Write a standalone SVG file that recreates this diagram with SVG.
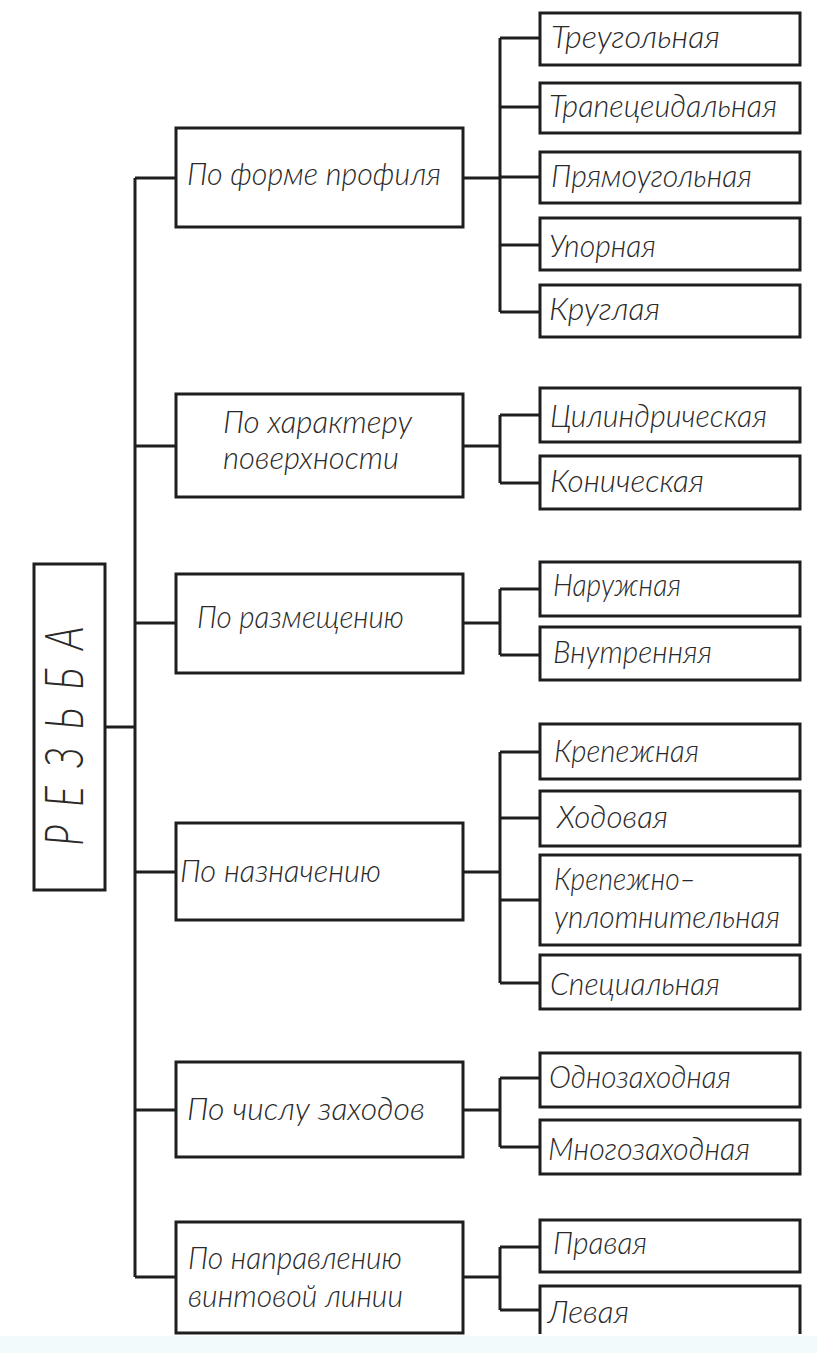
<svg xmlns="http://www.w3.org/2000/svg" width="817" height="1353" viewBox="0 0 817 1353">
<style>
.box{fill:#ffffff;stroke:#1e1e1e;stroke-width:3}
.ln{fill:none;stroke:#1e1e1e;stroke-width:3}
text{font-family:Lato,"Liberation Sans",sans-serif;font-style:italic;font-weight:300;font-size:32px;fill:#2a2a2a}
.root{font-size:54px}
</style>
<rect x="0" y="0" width="817" height="1353" fill="#ffffff"/>
<rect x="0" y="1336" width="817" height="17" fill="#f3fafb"/>
<g id="connectors" class="ln">
<path d="M105 727H135M135 178V1277"/>
<path d="M135 178H176M135 446H176M135 623H176M135 872H176M135 1110H176M135 1277H176"/>
<path d="M463 178H500M500 38V312M500 38H540M500 107H540M500 177H540M500 245H540M500 312H540"/>
<path d="M463 446H500M500 415V483M500 415H540M500 483H540"/>
<path d="M463 623H500M500 589V655M500 589H540M500 655H540"/>
<path d="M463 872H500M500 752V983M500 752H540M500 818H540M500 900H540M500 983H540"/>
<path d="M463 1110H500M500 1078V1147M500 1078H540M500 1147H540"/>
<path d="M463 1277H500M500 1247V1310M500 1247H540M500 1310H540"/>
</g>
<g id="root"><rect class="box" x="34" y="564" width="71" height="326"/><text class="root" transform="translate(83,846) rotate(-90) scale(0.72,1)" textLength="305" lengthAdjust="spacing">РЕЗЬБА</text></g>
<g id="cat1"><rect class="box" x="176" y="128" width="287" height="99"/><text x="187" y="185" textLength="254" lengthAdjust="spacingAndGlyphs">По форме профиля</text></g>
<g id="cat2"><rect class="box" x="176" y="394" width="287" height="103"/><text x="223" y="433" textLength="189" lengthAdjust="spacingAndGlyphs">По характеру</text><text x="223" y="469" textLength="176" lengthAdjust="spacingAndGlyphs">поверхности</text></g>
<g id="cat3"><rect class="box" x="176" y="574" width="287" height="99"/><text x="197" y="628" textLength="207" lengthAdjust="spacingAndGlyphs">По размещению</text></g>
<g id="cat4"><rect class="box" x="176" y="823" width="287" height="97"/><text x="180" y="882" textLength="201" lengthAdjust="spacingAndGlyphs">По назначению</text></g>
<g id="cat5"><rect class="box" x="176" y="1062" width="287" height="95"/><text x="187" y="1120" textLength="238" lengthAdjust="spacingAndGlyphs">По числу заходов</text></g>
<g id="cat6"><rect class="box" x="176" y="1222" width="287" height="111"/><text x="188" y="1269" textLength="214" lengthAdjust="spacingAndGlyphs">По направлению</text><text x="188" y="1307" textLength="215" lengthAdjust="spacingAndGlyphs">винтовой линии</text></g>
<g id="leaf1"><rect class="box" x="540" y="13" width="260" height="52"/><text x="551" y="48" textLength="169" lengthAdjust="spacingAndGlyphs">Треугольная</text></g>
<g id="leaf2"><rect class="box" x="540" y="83" width="260" height="50"/><text x="549" y="117" textLength="228" lengthAdjust="spacingAndGlyphs">Трапецеидальная</text></g>
<g id="leaf3"><rect class="box" x="540" y="152" width="260" height="51"/><text x="551" y="187" textLength="201" lengthAdjust="spacingAndGlyphs">Прямоугольная</text></g>
<g id="leaf4"><rect class="box" x="540" y="218" width="260" height="52"/><text x="549" y="257" textLength="107" lengthAdjust="spacingAndGlyphs">Упорная</text></g>
<g id="leaf5"><rect class="box" x="540" y="285" width="260" height="52"/><text x="549" y="320" textLength="111" lengthAdjust="spacingAndGlyphs">Круглая</text></g>
<g id="leaf6"><rect class="box" x="540" y="388" width="260" height="54"/><text x="550" y="427" textLength="217" lengthAdjust="spacingAndGlyphs">Цилиндрическая</text></g>
<g id="leaf7"><rect class="box" x="540" y="456" width="260" height="53"/><text x="550" y="492" textLength="154" lengthAdjust="spacingAndGlyphs">Коническая</text></g>
<g id="leaf8"><rect class="box" x="540" y="562" width="260" height="54"/><text x="553" y="596" textLength="128" lengthAdjust="spacingAndGlyphs">Наружная</text></g>
<g id="leaf9"><rect class="box" x="540" y="627" width="260" height="53"/><text x="553" y="663" textLength="159" lengthAdjust="spacingAndGlyphs">Внутренняя</text></g>
<g id="leaf10"><rect class="box" x="540" y="724" width="260" height="55"/><text x="554" y="762" textLength="145" lengthAdjust="spacingAndGlyphs">Крепежная</text></g>
<g id="leaf11"><rect class="box" x="540" y="791" width="260" height="55"/><text x="557" y="828" textLength="111" lengthAdjust="spacingAndGlyphs">Ходовая</text></g>
<g id="leaf12"><rect class="box" x="540" y="855" width="260" height="90"/><text x="554" y="890" textLength="142" lengthAdjust="spacingAndGlyphs">Крепежно–</text><text x="554" y="928" textLength="226" lengthAdjust="spacingAndGlyphs">уплотнительная</text></g>
<g id="leaf13"><rect class="box" x="540" y="955" width="260" height="54"/><text x="550" y="995" textLength="170" lengthAdjust="spacingAndGlyphs">Специальная</text></g>
<g id="leaf14"><rect class="box" x="540" y="1053" width="260" height="54"/><text x="549" y="1088" textLength="182" lengthAdjust="spacingAndGlyphs">Однозаходная</text></g>
<g id="leaf15"><rect class="box" x="540" y="1120" width="260" height="54"/><text x="548" y="1160" textLength="202" lengthAdjust="spacingAndGlyphs">Многозаходная</text></g>
<g id="leaf16"><rect class="box" x="540" y="1220" width="260" height="52"/><text x="553" y="1254" textLength="94" lengthAdjust="spacingAndGlyphs">Правая</text></g>
<g id="leaf17"><path class="box" d="M540 1334V1286H800V1334"/><text x="548" y="1323" textLength="81" lengthAdjust="spacingAndGlyphs">Левая</text></g>
</svg>
